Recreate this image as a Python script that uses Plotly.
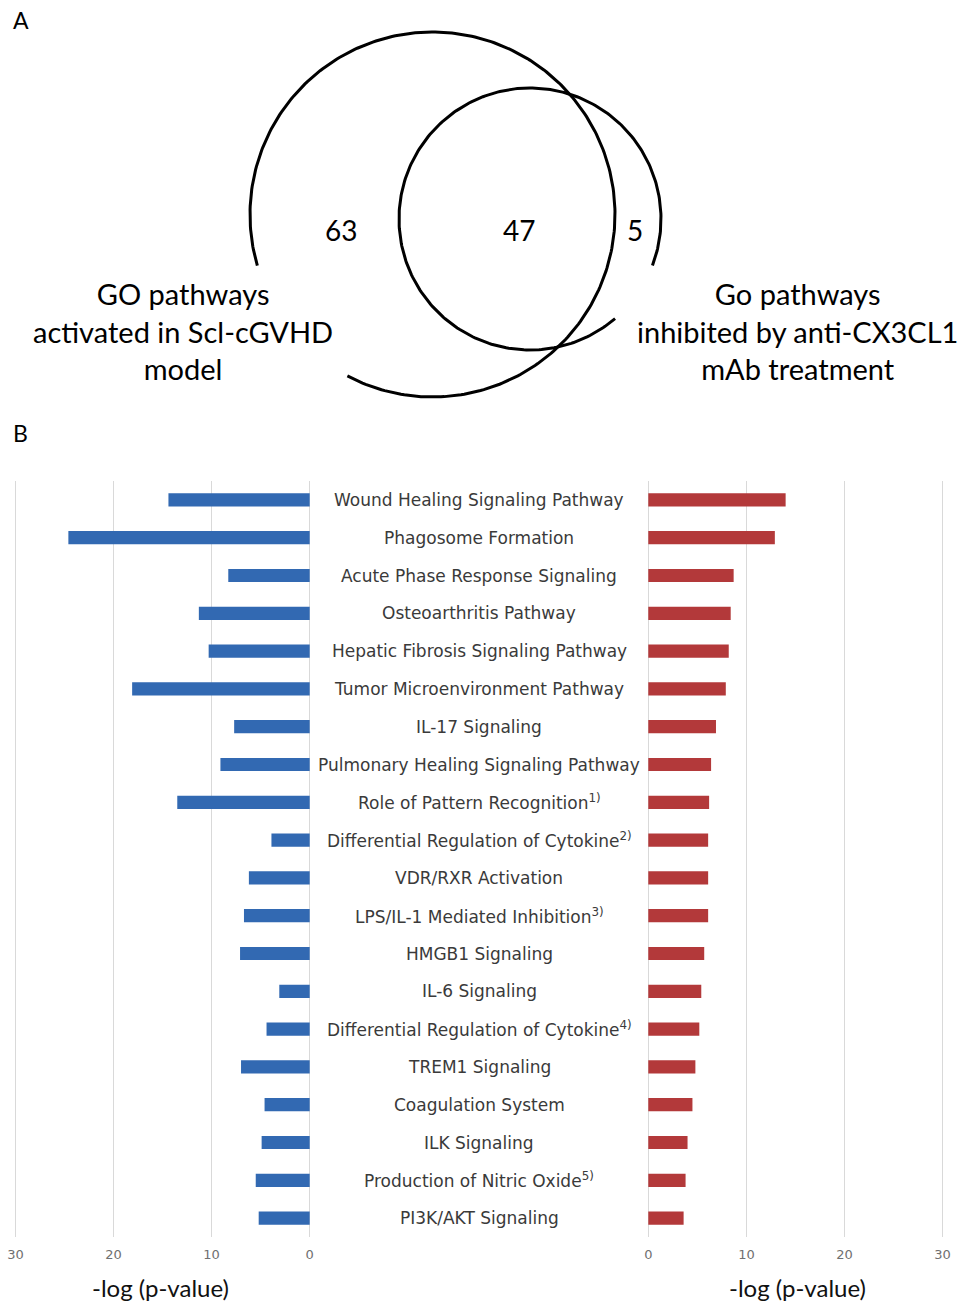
import numpy as np
import plotly.graph_objects as go

# ---- data -------------------------------------------------------------
pathways = [
    "Wound Healing Signaling Pathway",
    "Phagosome Formation",
    "Acute Phase Response Signaling",
    "Osteoarthritis Pathway",
    "Hepatic Fibrosis Signaling Pathway",
    "Tumor Microenvironment Pathway",
    "IL-17 Signaling",
    "Pulmonary Healing Signaling Pathway",
    "Role of Pattern Recognition<sup>1)</sup>",
    "Differential Regulation of Cytokine<sup>2)</sup>",
    "VDR/RXR Activation",
    "LPS/IL-1 Mediated Inhibition<sup>3)</sup>",
    "HMGB1 Signaling",
    "IL-6 Signaling",
    "Differential Regulation of Cytokine<sup>4)</sup>",
    "TREM1 Signaling",
    "Coagulation System",
    "ILK Signaling",
    "Production of Nitric Oxide<sup>5)</sup>",
    "PI3K/AKT Signaling",
]
# -log(p) in the Scl-cGVHD model (left) and with anti-CX3CL1 mAb (right)
neglogp_scl = [14.4, 24.6, 8.3, 11.3, 10.3, 18.1, 7.7, 9.1, 13.5, 3.9,
               6.2, 6.7, 7.1, 3.1, 4.4, 7.0, 4.6, 4.9, 5.5, 5.2]
neglogp_mab = [14.0, 12.9, 8.7, 8.4, 8.2, 7.9, 6.9, 6.4, 6.2, 6.1,
               6.1, 6.1, 5.7, 5.4, 5.2, 4.8, 4.5, 4.0, 3.8, 3.6]
x_ticks = [0, 10, 20, 30]

# Venn counts
only_scl = 63
shared = 47
only_mab = 5
label_scl = "GO pathways<br>activated in Scl-cGVHD<br>model"
label_mab = "Go pathways<br>inhibited by anti-CX3CL1<br>mAb treatment"

W, H = 960, 1303
BLUE = "#3269b2"
RED = "#b3393a"
GRID = "#d9d9d9"
LABEL_FONT = "DejaVu Sans"
SANS = "Lato, Open Sans, sans-serif"

fig = go.Figure()

# ---- panel B: mirrored bar charts ------------------------------------
cat_idx = list(range(len(pathways)))
fig.add_trace(go.Bar(x=neglogp_scl, y=cat_idx, orientation="h", width=0.35,
                     marker=dict(color=BLUE, line=dict(width=0)),
                     xaxis="x", yaxis="y", showlegend=False, hoverinfo="x"))
fig.add_trace(go.Bar(x=neglogp_mab, y=cat_idx, orientation="h", width=0.35,
                     marker=dict(color=RED, line=dict(width=0)),
                     xaxis="x2", yaxis="y", showlegend=False, hoverinfo="x"))

y_top, y_bot = 481, 1237
ydom = [1 - y_bot / H, 1 - y_top / H]

# axes span a little past 0..30 so every grid line lies inside the frame
PX_PER_UNIT = 9.81
LO, HI = -0.5, 31.0
left_zero, right_zero = 309.7, 648.3
left_dom = [(left_zero - PX_PER_UNIT * HI) / W, (left_zero - PX_PER_UNIT * LO) / W]
right_dom = [(right_zero + PX_PER_UNIT * LO) / W, (right_zero + PX_PER_UNIT * HI) / W]

axis_common = dict(
    tickvals=x_ticks, ticktext=[str(t) for t in x_ticks],
    showgrid=True, gridcolor=GRID, gridwidth=1,
    zeroline=False, showline=False, ticks="", automargin=False,
    ticklabelstandoff=8,
    tickfont=dict(family=LABEL_FONT, size=13, color="#707070"),
    anchor="y", fixedrange=True,
)
fig.update_layout(
    xaxis=dict(domain=left_dom, range=[HI, LO], **axis_common),
    xaxis2=dict(domain=right_dom, range=[LO, HI], **axis_common),
    yaxis=dict(domain=ydom, range=[len(pathways) - 0.5, -0.5],
               showticklabels=False, showgrid=False, zeroline=False,
               ticks="", anchor="x", fixedrange=True, automargin=False),
)

# pathway names centred between the two panels
for i, name in enumerate(pathways):
    fig.add_annotation(x=479 / W, xref="paper", y=i, yref="y",
                       text=name, showarrow=False, xanchor="center",
                       yanchor="middle",
                       font=dict(family=LABEL_FONT, size=17, color="#3a3a3a"))

for xc in (160, 797):
    fig.add_annotation(x=xc / W, xref="paper", y=1 - 1287 / H, yref="paper",
                       text="-log (p-value)", showarrow=False,
                       xanchor="center", yanchor="middle",
                       font=dict(family=SANS, size=24, color="#111111"))

# ---- panel A: Venn diagram (pixel coordinate overlay) ----------------
venn_h = 420
fig.update_layout(
    xaxis3=dict(domain=[0, 1], range=[0, W], visible=False, anchor="y3",
                fixedrange=True, automargin=False),
    yaxis3=dict(domain=[1 - venn_h / H, 1], range=[venn_h, 0], visible=False,
                anchor="x3", fixedrange=True, automargin=False),
)


def arc(cx, cy, r, a0, a1, n=300):
    t = np.radians(np.linspace(a0, a1, n))
    return cx + r * np.cos(t), cy - r * np.sin(t)


# large circle (open at lower left), small circle (open at lower right)
ax, ay = arc(432.5, 214.5, 182.5, -117.8, 196.3)
bx, by = arc(530, 219, 131, -20.8, 310.5)
for px, py in ((ax, ay), (bx, by)):
    fig.add_trace(go.Scatter(x=px, y=py, mode="lines",
                             line=dict(color="black", width=3),
                             xaxis="x3", yaxis="y3", showlegend=False,
                             hoverinfo="skip"))

for xc, val in ((341, only_scl), (519, shared), (635, only_mab)):
    fig.add_annotation(x=xc, y=230, xref="x3", yref="y3", text=str(val),
                       showarrow=False, xanchor="center", yanchor="middle",
                       font=dict(family=SANS, size=28, color="black"))

for xc, txt in ((183, label_scl), (797, label_mab)):
    fig.add_annotation(x=xc, y=331, xref="x3", yref="y3", text=txt,
                       showarrow=False, xanchor="center", yanchor="middle",
                       align="center",
                       font=dict(family=SANS, size=29, color="black"))

for txt, xp, yp in (("A", 21, 20), ("B", 20, 433)):
    fig.add_annotation(x=xp / W, y=1 - yp / H, xref="paper", yref="paper",
                       text=txt, showarrow=False, xanchor="center",
                       yanchor="middle",
                       font=dict(family=SANS, size=23, color="black"))

fig.update_layout(
    width=W, height=H,
    margin=dict(l=0, r=0, t=0, b=0, autoexpand=False),
    paper_bgcolor="white", plot_bgcolor="rgba(0,0,0,0)",
    bargap=0.65, template="none",
)

fig.write_html("out.html")
